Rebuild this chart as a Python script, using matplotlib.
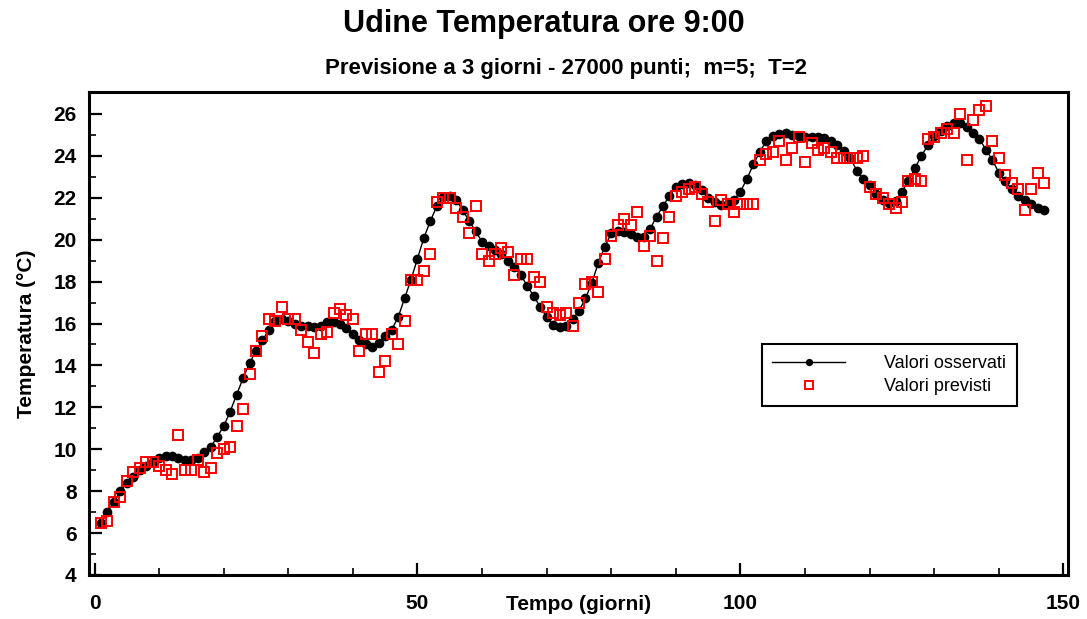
import matplotlib
matplotlib.use("Agg")
import matplotlib.pyplot as plt
from matplotlib.ticker import MultipleLocator

plt.rcParams['font.family'] = ['Liberation Sans', 'DejaVu Sans']

# Valori osservati (temperatura ore 9:00), un valore per giorno
osservati = [
    6.5, 7.0, 7.5, 8.0, 8.4, 8.7, 9.0, 9.2, 9.4, 9.6,
    9.7, 9.7, 9.6, 9.5, 9.5, 9.6, 9.85, 10.1, 10.6, 11.1,
    11.8, 12.6, 13.4, 14.1, 14.7, 15.2, 15.7, 16.1, 16.2, 16.1,
    16.0, 15.9, 15.9, 15.85, 15.9, 16.05, 16.05, 16.0, 15.8, 15.5,
    15.2, 15.0, 14.9, 15.05, 15.4, 15.7, 16.3, 17.2, 18.1, 19.1,
    20.1, 20.9, 21.6, 22.05, 22.1, 21.9, 21.4, 20.9, 20.4, 19.9,
    19.7, 19.5, 19.3, 19.0, 18.7, 18.3, 17.8, 17.3, 16.8, 16.3,
    15.95, 15.85, 15.9, 16.2, 16.6, 17.2, 17.95, 18.9, 19.67, 20.3,
    20.4, 20.35, 20.25, 20.15, 20.15, 20.5, 21.1, 21.6, 22.1, 22.5,
    22.65, 22.7, 22.6, 22.35, 22.0, 21.8, 21.67, 21.7, 21.9, 22.3,
    22.9, 23.6, 24.2, 24.7, 24.95, 25.05, 25.1, 25.0, 24.95, 24.9,
    24.9, 24.9, 24.85, 24.7, 24.5, 24.25, 23.9, 23.3, 22.9, 22.6,
    22.2, 21.9, 21.76, 21.85, 22.3, 22.8, 23.4, 24.0, 24.5, 24.95,
    25.2, 25.45, 25.57, 25.57, 25.4, 25.1, 24.8, 24.3, 23.8, 23.2,
    22.8, 22.4, 22.1, 21.9, 21.7, 21.5, 21.4,
]

# Valori previsti (previsione a 3 giorni)
previsti = [
    6.5, 6.6, 7.5, 7.7, 8.5, 8.9, 9.1, 9.4, 9.4, 9.2,
    9.0, 8.8, 10.7, 9.0, 9.0, 9.5, 8.9, 9.1, 9.8, 10.0,
    10.1, 11.1, 11.9, 13.6, 14.7, 15.4, 16.2, 16.1, 16.8, 16.2,
    16.2, 15.7, 15.1, 14.6, 15.5, 15.6, 16.5, 16.7, 16.4, 16.2,
    14.7, 15.5, 15.5, 13.7, 14.2, 15.5, 15.0, 16.1, 18.1, 18.1,
    18.5, 19.3, 21.8, 22.0, 22.0, 21.5, 21.1, 20.3, 21.6, 19.3,
    19.0, 19.3, 19.6, 19.4, 18.3, 19.1, 19.1, 18.2, 18.0, 16.8,
    16.5, 16.4, 16.5, 15.9, 17.0, 17.9, 18.0, 17.5, 19.1, 20.2,
    20.7, 21.0, 20.7, 21.3, 19.7, 20.2, 19.0, 20.1, 21.1, 22.1,
    22.3, 22.4, 22.5, 22.2, 21.8, 20.9, 21.9, 21.7, 21.3, 21.7,
    21.7, 21.7, 23.8, 24.1, 24.2, 24.7, 23.8, 24.4, 24.9, 23.7,
    24.6, 24.3, 24.4, 24.2, 23.9, 23.9, 23.9, 23.9, 24.0, 22.5,
    22.2, 22.0, 21.7, 21.5, 21.8, 22.8, 22.9, 22.8, 24.8, 24.9,
    25.1, 25.3, 25.1, 26.0, 23.8, 25.7, 26.2, 26.4, 24.7, 23.9,
    23.1, 22.7, 22.4, 21.4, 22.4, 23.2, 22.7,
]

giorni = list(range(1, len(osservati) + 1))

fig = plt.figure(figsize=(10.87, 6.19), dpi=100)
ax = fig.add_axes([0.0819, 0.0711, 0.9006, 0.7803])

ax.plot(giorni, osservati, color='black', lw=1.0, marker='o', markersize=7,
        markeredgewidth=0, label='Valori osservati', zorder=2)
ax.plot(giorni, previsti, ls='none', marker='s', markersize=7, markerfacecolor='none',
        markeredgecolor='red', markeredgewidth=1.4, label='Valori previsti', zorder=3)

ax.set_xlim(-0.85, 150.7)
ax.set_ylim(4, 27.05)
ax.xaxis.set_major_locator(MultipleLocator(50))
ax.xaxis.set_minor_locator(MultipleLocator(10))
ax.yaxis.set_major_locator(MultipleLocator(2))
ax.yaxis.set_minor_locator(MultipleLocator(1))

ax.tick_params(which='major', direction='in', length=9, width=1.6, labelsize=15)
ax.tick_params(which='minor', direction='in', length=5, width=1.2)
ax.tick_params(axis='x', which='major', pad=14)
ax.tick_params(axis='y', which='major', pad=9)
for lab in ax.get_xticklabels() + ax.get_yticklabels():
    lab.set_fontweight('bold')
for sp in ax.spines.values():
    sp.set_linewidth(2.2)

ax.set_xlabel('Tempo (giorni)', fontsize=15, fontweight='bold', labelpad=-13)
ax.set_ylabel('Temperatura (°C)', fontsize=15, fontweight='bold', labelpad=12)

leg = ax.legend(loc='upper left', bbox_to_anchor=(0.687, 0.478), fontsize=13,
                fancybox=False, edgecolor='black', framealpha=1, markerscale=0.75,
                handlelength=4.0, handletextpad=2.2, borderpad=0.6, labelspacing=0.35,
                borderaxespad=0)
leg.get_frame().set_linewidth(1.5)

fig.text(0.5, 0.961, 'Udine Temperatura ore 9:00', ha='center', va='center',
         fontsize=22, fontweight='bold')
fig.text(0.521, 0.89, 'Previsione a 3 giorni - 27000 punti;  m=5;  T=2', ha='center',
         va='center', fontsize=16, fontweight='bold')

fig.savefig('out.png', dpi=100)
